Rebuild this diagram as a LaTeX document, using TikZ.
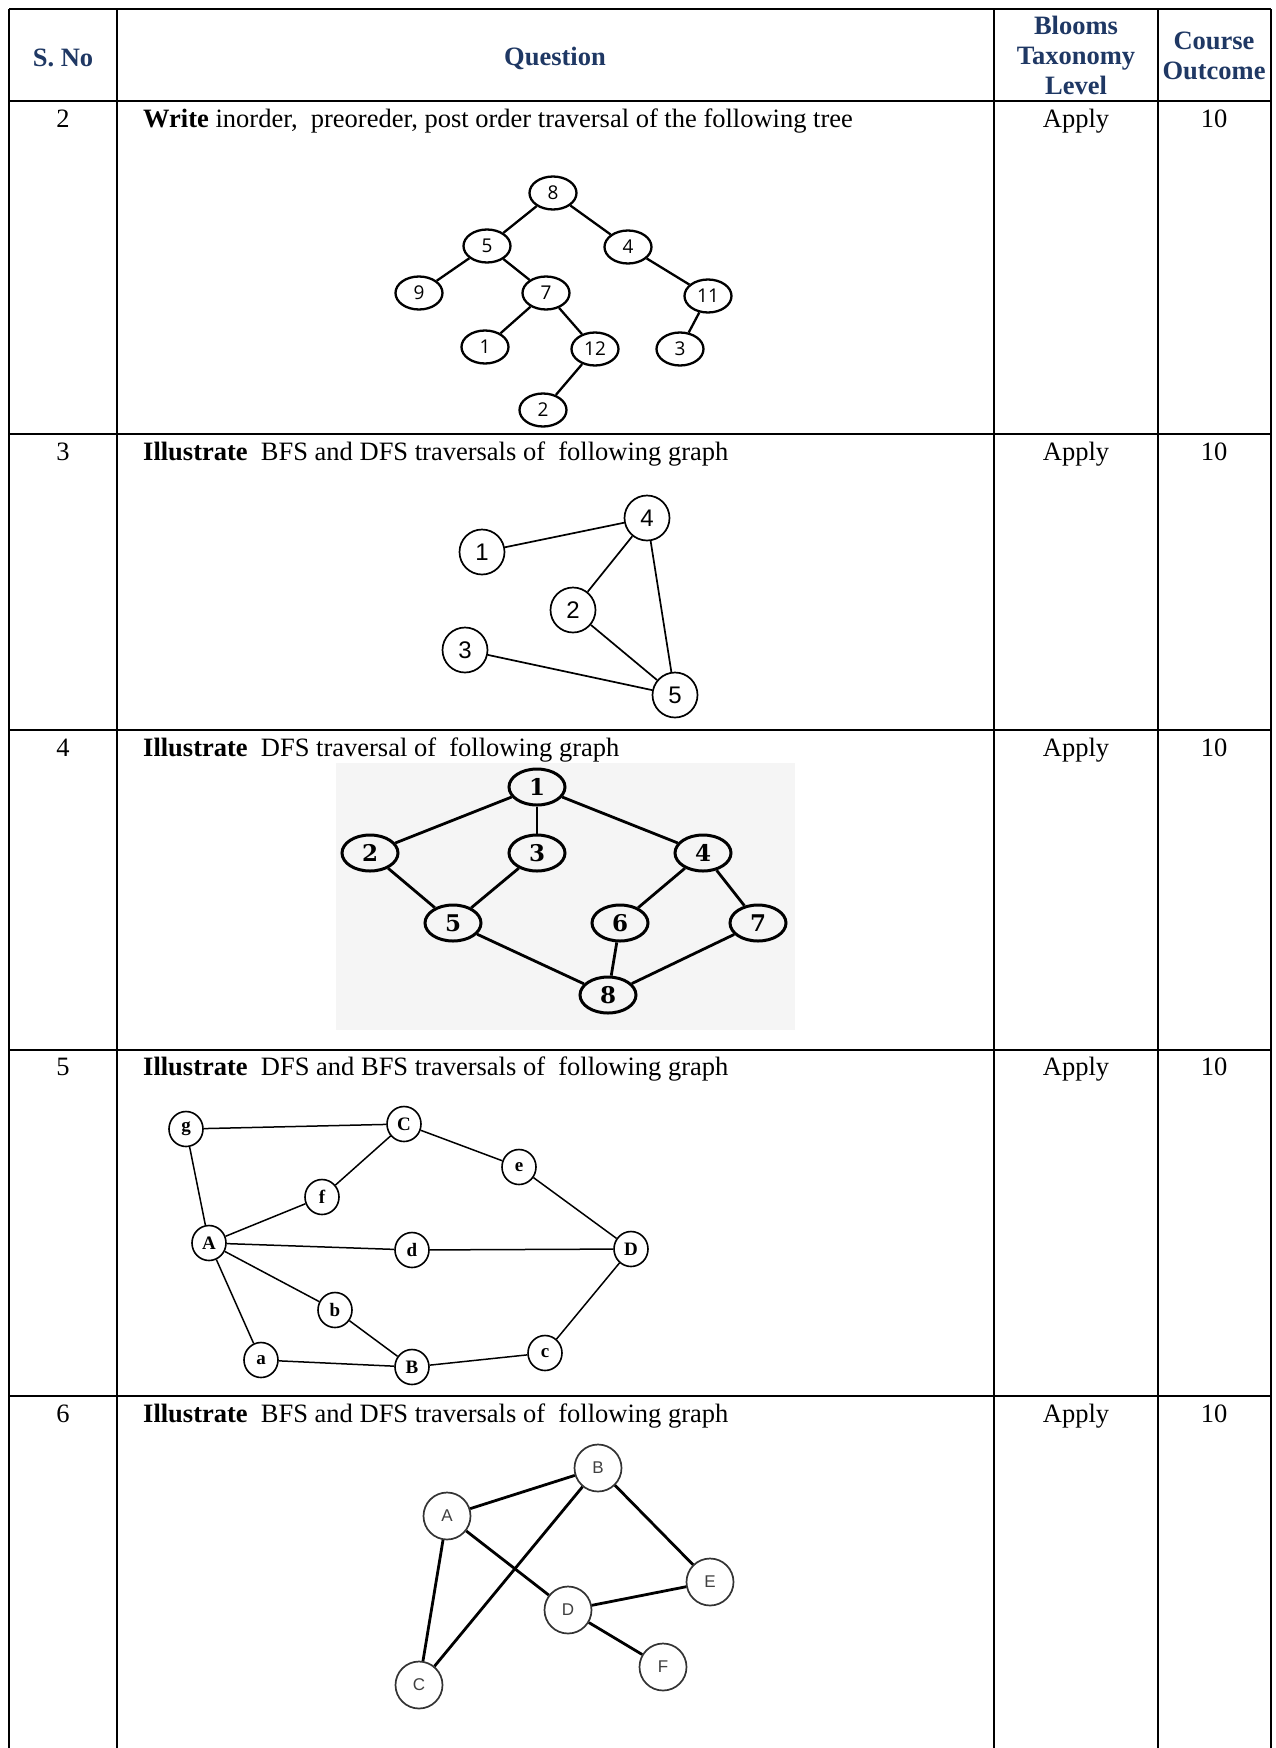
\documentclass[tikz,border=0pt]{standalone}
\usepackage{fontspec}
\setmainfont{Liberation Serif}
\newfontfamily\arialf{Liberation Sans}
\newfontfamily\osans{Open Sans}
\newfontfamily\dvserif{DejaVu Serif}
\usetikzlibrary{shapes.geometric}
\definecolor{navy}{HTML}{1F3864}
\definecolor{bgfour}{HTML}{F5F5F5}
\begin{document}
\begin{tikzpicture}[x=1pt,y=-1pt,
  grid/.style={line width=2.6pt},
  hdr/.style={font=\fontsize{26.5}{30}\selectfont\bfseries, text=navy, inner sep=0, align=center},
  cell/.style={font=\fontsize{26.5}{30}\selectfont, anchor=base, inner sep=0},
  qtext/.style={font=\fontsize{26.5}{30}\selectfont, anchor=base west, inner sep=0},
  tnode/.style={ellipse, draw, line width=2.3pt, minimum width=47pt, minimum height=33pt, inner sep=0, font=\osans\fontsize{19}{20}\selectfont},
  tedge/.style={line width=2.3pt},
  cnode/.style={circle, draw, line width=1.7pt, minimum size=45pt, inner sep=0, font=\arialf\fontsize{24}{26}\selectfont},
  cedge/.style={line width=1.7pt},
  bnode/.style={ellipse, draw, line width=3pt, minimum width=56pt, minimum height=36pt, inner sep=0, font=\dvserif\bfseries\fontsize{23}{24}\selectfont},
  bedge/.style={line width=2.8pt},
  lnode/.style={ellipse, draw, line width=1.6pt, minimum width=34pt, minimum height=35pt, inner sep=0, font=\bfseries\fontsize{19}{20}\selectfont},
  ledge/.style={line width=1.5pt},
  gnode/.style={circle, draw=black!80, line width=1.7pt, minimum size=47pt, inner sep=0, text=black!75, font=\arialf\fontsize{17}{18}\selectfont},
  gedge/.style={line width=2.8pt}
]
\useasboundingbox (0,0) rectangle (1275,1748);
\fill[white] (0,0) rectangle (1275,1748);

% ---------- table grid ----------
\draw[grid] (9,9) -- (1271,9);
\foreach \yy in {101,434,730,1050,1396}{\draw[grid] (9,\yy) -- (1271,\yy);}
\foreach \xx in {9,117,994,1158,1271}{\draw[grid] (\xx,9) -- (\xx,1748);}

% ---------- header ----------
\node[hdr] (hsno) at (63,58) {S. No};
\node[hdr] (hq) at (555,58) {Question};
\node[hdr] (hbl) at (1076,55) {Blooms\\Taxonomy\\Level};
\node[hdr] (hco) at (1214,56) {Course\\Outcome};

% ---------- row texts ----------
\node[cell] (n2) at (63,127) {2};
\node[qtext] (q2) at (143,127) {\textbf{Write} inorder,\ \ preoreder, post order traversal of the following tree};
\node[cell] (a2) at (1076,127) {Apply};
\node[cell] (c2) at (1214,127) {10};

\node[cell] (n3) at (63,460) {3};
\node[qtext] (q3) at (143,460) {\textbf{Illustrate}\ \ BFS and DFS traversals of\ \ following graph};
\node[cell] (a3) at (1076,460) {Apply};
\node[cell] (c3) at (1214,460) {10};

\node[cell] (n4) at (63,756) {4};
\node[qtext] (q4) at (143,756) {\textbf{Illustrate}\ \ DFS traversal of\ \ following graph};
\node[cell] (a4) at (1076,756) {Apply};
\node[cell] (c4) at (1214,756) {10};

\node[cell] (n5) at (63,1075) {5};
\node[qtext] (q5) at (143,1075) {\textbf{Illustrate}\ \ DFS and BFS traversals of\ \ following graph};
\node[cell] (a5) at (1076,1075) {Apply};
\node[cell] (c5) at (1214,1075) {10};

\node[cell] (n6) at (63,1422) {6};
\node[qtext] (q6) at (143,1422) {\textbf{Illustrate}\ \ BFS and DFS traversals of\ \ following graph};
\node[cell] (a6) at (1076,1422) {Apply};
\node[cell] (c6) at (1214,1422) {10};

% ---------- row 2: binary tree ----------
\node[tnode] (t8) at (553,193) {8};
\node[tnode] (t5) at (487,246) {5};
\node[tnode] (t4) at (628,247) {4};
\node[tnode] (t9) at (419,293) {9};
\node[tnode] (t7) at (546,293) {7};
\node[tnode] (t11) at (708,296) {11};
\node[tnode] (t1) at (485,347) {1};
\node[tnode] (t12) at (595,349) {12};
\node[tnode] (t3) at (680,349) {3};
\node[tnode] (t2) at (543,410) {2};
\draw[tedge] (t8) -- (t5);
\draw[tedge] (t8) -- (t4);
\draw[tedge] (t5) -- (t9);
\draw[tedge] (t5) -- (t7);
\draw[tedge] (t7) -- (t1);
\draw[tedge] (t7) -- (t12);
\draw[tedge] (t12) -- (t2);
\draw[tedge] (t4) -- (t11);
\draw[tedge] (t11) -- (t3);

% ---------- row 3: graph ----------
\node[cnode] (g1) at (482,552) {1};
\node[cnode] (g4) at (647,518) {4};
\node[cnode] (g2) at (573,610) {2};
\node[cnode] (g3) at (465,650) {3};
\node[cnode] (g5) at (675,695) {5};
\draw[cedge] (g1) -- (g4);
\draw[cedge] (g4) -- (g2);
\draw[cedge] (g4) -- (g5);
\draw[cedge] (g2) -- (g5);
\draw[cedge] (g3) -- (g5);

% ---------- row 4: graph ----------
\fill[bgfour] (336,763) rectangle (795,1030);
\node[bnode] (b1) at (537,787) {1};
\node[bnode] (b2) at (370,853) {2};
\node[bnode] (b3) at (537,853) {3};
\node[bnode] (b4) at (703,853) {4};
\node[bnode] (b5) at (453,923) {5};
\node[bnode] (b6) at (620,923) {6};
\node[bnode] (b7) at (758,923) {7};
\node[bnode] (b8) at (608,995) {8};
\draw[bedge] (b1) -- (b2);
\draw[bedge] (b1) -- (b3);
\draw[bedge] (b1) -- (b4);
\draw[bedge] (b2) -- (b5);
\draw[bedge] (b3) -- (b5);
\draw[bedge] (b4) -- (b6);
\draw[bedge] (b4) -- (b7);
\draw[bedge] (b5) -- (b8);
\draw[bedge] (b6) -- (b8);
\draw[bedge] (b7) -- (b8);

% ---------- row 5: graph ----------
\node[lnode] (lg) at (186,1129) {g};
\node[lnode] (lC) at (404,1124) {C};
\node[lnode] (le) at (519,1167) {e};
\node[lnode] (lf) at (322,1197) {f};
\node[lnode] (lA) at (209,1243) {A};
\node[lnode] (ld) at (412,1250) {d};
\node[lnode] (lD) at (631,1249) {D};
\node[lnode] (lb) at (335,1310) {b};
\node[lnode] (la) at (261,1360) {a};
\node[lnode] (lB) at (412,1367) {B};
\node[lnode] (lc) at (545,1353) {c};
\draw[ledge] (lg) -- (lC);
\draw[ledge] (lg) -- (lA);
\draw[ledge] (lC) -- (lf);
\draw[ledge] (lC) -- (le);
\draw[ledge] (le) -- (lD);
\draw[ledge] (lf) -- (lA);
\draw[ledge] (lA) -- (ld);
\draw[ledge] (ld) -- (lD);
\draw[ledge] (lA) -- (lb);
\draw[ledge] (lA) -- (la);
\draw[ledge] (lb) -- (lB);
\draw[ledge] (la) -- (lB);
\draw[ledge] (lB) -- (lc);
\draw[ledge] (lc) -- (lD);

% ---------- row 6: graph ----------
\node[gnode] (rB) at (598,1468) {B};
\node[gnode] (rA) at (447,1516) {A};
\node[gnode] (rE) at (710,1582) {E};
\node[gnode] (rD) at (568,1610) {D};
\node[gnode] (rF) at (663,1667) {F};
\node[gnode] (rC) at (419,1685) {C};
\draw[gedge] (rA) -- (rB);
\draw[gedge] (rB) -- (rE);
\draw[gedge] (rB) -- (rC);
\draw[gedge] (rA) -- (rD);
\draw[gedge] (rA) -- (rC);
\draw[gedge] (rD) -- (rE);
\draw[gedge] (rD) -- (rF);
\end{tikzpicture}
\end{document}
